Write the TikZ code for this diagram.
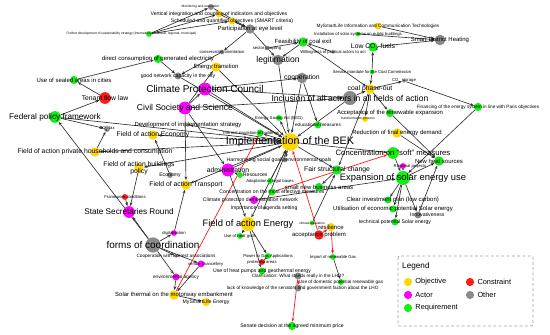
\documentclass[tikz,border=0pt]{standalone}
\usepackage{fontspec}
\setmainfont{Liberation Sans}
\usetikzlibrary{arrows.meta,positioning,backgrounds}
\definecolor{ObjYellow}{HTML}{FFD600}
\definecolor{ActMagenta}{HTML}{FF00FF}
\definecolor{ReqGreen}{HTML}{11EE11}
\definecolor{ConRed}{HTML}{FF1A1A}
\definecolor{OthGray}{HTML}{8A8A8A}
\definecolor{EdgeGray}{HTML}{303030}

\begin{document}
\begin{tikzpicture}[x=0.03cm, y=-0.03cm,
  gdot/.style={circle, inner sep=0pt, minimum size=#1pt},
  obj/.style={gdot=#1, fill=ObjYellow}, obj/.default=7,
  act/.style={gdot=#1, fill=ActMagenta}, act/.default=7,
  req/.style={gdot=#1, fill=ReqGreen}, req/.default=7,
  con/.style={gdot=#1, fill=ConRed}, con/.default=7,
  oth/.style={gdot=#1, fill=OthGray}, oth/.default=7,
  fs92/.style={font=\fontsize{9.2}{10}\selectfont},
  fs85/.style={font=\fontsize{8.5}{9}\selectfont},
  fs80/.style={font=\fontsize{8}{9}\selectfont},
  fs73/.style={font=\fontsize{7.3}{8}\selectfont},
  fs70/.style={font=\fontsize{7}{8}\selectfont},
  fs66/.style={font=\fontsize{6.6}{7}\selectfont},
  fs58/.style={font=\fontsize{5.8}{6.4}\selectfont},
  fs51/.style={font=\fontsize{5.1}{6}\selectfont},
  fs44/.style={font=\fontsize{4.4}{5}\selectfont},
  fs40/.style={font=\fontsize{4}{4.6}\selectfont},
  fs36/.style={font=\fontsize{3.6}{4.2}\selectfont},
  fs28/.style={font=\fontsize{2.8}{3.4}\selectfont},
  legtxt/.style={font=\fontsize{6.3}{7}\selectfont, inner sep=0.5pt},
  legframe/.style={draw=gray!75, line width=0.6pt, dash pattern=on 2.5pt off 2pt, rounded corners=1pt},
  arr/.style={-{Stealth[length=3.2pt,width=2.4pt]}, line width=0.55pt, draw=EdgeGray},
  carr/.style={-{Stealth[length=3.2pt,width=2.4pt]}, line width=0.6pt, draw=ConRed},
]
\useasboundingbox (0,0) rectangle (550,335);

%% ─ Top: strategy and coal exit ─────────────────────────────────────────────
\node[oth=5, label={[fs28,xshift=-9pt]center:{Monitoring and evaluation}}] (monit) at (211,7) {};
\node[obj=6, label={[fs44]center:{Vertical integration and coupling of indicators and objectives}}] (vert) at (219,14) {};
\node[obj=6, label={[fs44]center:{Scheduled and quantified objectives (SMART criteria)}}] (smart) at (232,21) {};
\node[oth=8, label={[fs51]center:{Participation at eye level}}] (partic) at (250,29) {};
\node[req=5, label={[fs28,xshift=-15pt]center:{Further development of sustainability strategy (international, national, regional, municipal)}}] (furtherdev) at (149,34) {};
\node[req=7, label={[fs51]center:{direct consumption of generated electricity}}] (directcons) at (158,59) {};
\node[oth=4, label={[fs36]center:{conservation orientation}}] (conserv) at (222,52) {};
\node[obj=8, label={[fs51]center:{Energy transition}}] (enertrans) at (216,67) {};
\node[oth=6, label={[fs44]center:{good network capacity in the city}}] (goodnet) at (178,76) {};
\node[oth=9, label={[fs73]center:{legitimation}}] (legit) at (278,60) {};
\node[oth=4, label={[fs36]center:{sector coupling}}] (sector) at (267,48) {};
\node[req=8, label={[fs51]center:{Feasibility of coal exit}}] (feas) at (303,42) {};
\node[oth=3, label={[fs36]center:{Willingness of political actors to act}}] (willing) at (333,52) {};
\node[obj=6, label={[fs40]center:{MySmartLife Information and Communication Technologies}}] (mslict) at (378,26) {};
\node[req=4, label={[fs36]center:{Installation of solar systems on public buildings}}] (solarpub) at (358,34) {};
\node[req=8, label={[fs58]center:{Low CO\textsubscript{2} fuels}}] (lowco) at (373,47) {};
\node[oth=9, label={[fs51]center:{Smart District Heating}}] (sdh) at (440,40) {};

%% ─ Middle: actors and the BEK ──────────────────────────────────────────────
\node[act=11, label={[fs85]center:{Climate Protection Council}}] (council) at (205,89) {};
\node[act=11, label={[fs73]center:{Civil Society and Science}}] (civil) at (185,108) {};
\node[oth=9, label={[fs58]center:{cooperation}}] (coop) at (302,78) {};
\node[req=4, label={[fs36]center:{Senate mandate for the Coal Commission}}] (mandate) at (372,72) {};
\node[obj=8, label={[fs58]center:{coal phase-out}}] (coalout) at (370,89) {};
\node[oth=3, label={[fs36]center:{CO\textsubscript{2} storage}}] (costore) at (404,81) {};
\node[req=7, label={[fs40]center:{Financing of the energy system in line with Paris objectives}}] (financing) at (478,107) {};
\node[oth=12, label={[fs73]center:{Inclusion of all actors in all fields of action}}] (inclusion) at (350,98) {};
\node[req=7, label={[fs51]center:{Acceptance of the renewable expansion}}] (accept) at (390,113) {};
\node[obj=5, label={[fs28,xshift=-6pt]center:{transformation process}}] (transf) at (365,119) {};
\node[obj=8, label={[fs51]center:{Reduction of final energy demand}}] (reduct) at (397,133) {};
\node[req=5, label={[fs36]center:{Energy Saving Act (EEG)}}] (eeg) at (279,118) {};
\node[req=6, label={[fs40]center:{educational measures}}] (educ) at (318,125) {};
\node[obj=15, label={[fs92]center:{Implementation of the BEK}}] (bek) at (290,142) {};
\node[req=10, label={[fs66]center:{Concentration on "soft" measures}}] (soft) at (393,153) {};
\node[act=5, label={[fs36,xshift=6pt]center:{Regional projects}}] (regional) at (403,166) {};
\node[req=8, label={[fs51]center:{New heat sources}}] (newheat) at (439,161) {};
\node[req=12, label={[fs80]center:{Expansion of solar energy use}}] (expsolar) at (403,178) {};
\node[req=8, label={[fs58]center:{Fair structural change}}] (fair) at (337,170) {};
\node[oth=4, label={[fs44,xshift=-5pt]center:{Harmonising social goals/environmental goals}}] (harmon) at (285,160) {};
\node[act=11, label={[fs58]center:{administration}}] (admin) at (228,170) {};
\node[req=5, label={[fs44,xshift=13pt]center:{Resources}}] (resources) at (240,175) {};
\node[req=5, label={[fs36]center:{Adaptation of legal bases}}] (legal) at (270,181) {};
\node[req=6, label={[fs44]center:{Concentration on the most effective measures}}] (effective) at (272,192) {};
\node[req=7, label={[fs51]center:{small new business areas}}] (smallbiz) at (319,187) {};
\node[act=7, label={[fs44,xshift=-3pt]center:{Climate protection demonstration network}}] (network) at (254,200) {};
\node[oth=3, label={[fs44]center:{Importance of agenda setting}}] (agenda) at (264,208) {};
\node[obj=12, label={[fs80]center:{Field of action Energy}}] (fenergy) at (248,224) {};
\node[req=4, label={[fs28]center:{climate education}}] (climedu) at (312,223) {};
\node[req=6, label={[fs51,xshift=4pt]center:{Clear investment plan (low carbon)}}] (clearinv) at (388,200) {};
\node[req=6, label={[fs51]center:{Utilisation of economic potential Solar energy}}] (utilis) at (393,209) {};
\node[oth=6, label={[fs44,xshift=8pt]center:{Innovativeness}}] (innov) at (418,215) {};
\node[req=6, label={[fs44]center:{technical potential Solar energy}}] (technical) at (395,222) {};

%% ─ Left: fields of action and coordination ─────────────────────────────────
\node[oth=3, label={[fs51]center:{Development of implementation strategy}}] (devstrat) at (188,125) {};
\node[req=6, label={[fs36,xshift=-8pt]center:{Thermal insulation of buildings}}] (thermal) at (260,133) {};
\node[obj=8, label={[fs58]center:{Field of action Economy}}] (feconomy) at (153,135) {};
\node[oth=5, label={[fs36]center:{CO\textsubscript{2} tax}}] (cotax) at (107,129) {};
\node[obj=8, label={[fs58]center:{Field of action private households and consumption}}] (fprivate) at (95,152) {};
\node[obj=8, label={[fs58,align=center]center:{Field of action buildings\\policy}}] (fbuild) at (139,168) {};
\node[oth=5, label={[fs44]center:{Economy}}] (economy) at (170,175) {};
\node[obj=8, label={[fs58]center:{Field of action Transport}}] (ftransport) at (186,185) {};
\node[req=10, label={[fs70]center:{Federal policy framework}}] (federal) at (55,117) {};
\node[con=10, label={[fs58]center:{Tenant flow law}}] (tenant) at (105,98) {};
\node[req=7, label={[fs51]center:{Use of sealed areas in cities}}] (sealed) at (74,80) {};
\node[con=5, label={[fs36]center:{Framework conditions}}] (framework) at (125,197) {};
\node[act=10, label={[fs70]center:{State Secretaries Round}}] (secret) at (129,212) {};
\node[oth=13, label={[fs85]center:{forms of coordination}}] (forms) at (153,245) {};
\node[act=5, label={[fs36]center:{digitalisation}}] (digital) at (174,233) {};
\node[oth=3, label={[fs40]center:{Cooperation with interest associations}}] (coopassoc) at (176,256) {};
\node[act=6, label={[fs36,xshift=4pt]center:{senate chancellery}}] (chancel) at (201,264) {};
\node[act=6, label={[fs40]center:{environmental agency}}] (envagency) at (176,277) {};
\node[obj=8, label={[fs51]center:{Solar thermal on the motorway embankment}}] (solarmw) at (174,295) {};
\node[obj=7, label={[fs44]center:{MySmartLife Energy}}] (mslenergy) at (206,302) {};

%% ─ Bottom: energy field and LHO ────────────────────────────────────────────
\node[req=5, label={[fs36]center:{Use of heat grids}}] (heatgrid) at (240,236) {};
\node[req=5, label={[fs36]center:{Power to Gas Applications}}] (ptogas) at (268,256) {};
\node[con=5, label={[fs36]center:{protected areas}}] (protect) at (262,262) {};
\node[req=6, label={[fs44]center:{Use of heat pumps and geothermal energy}}] (heatpump) at (262,271) {};
\node[oth=6, label={[fs40]center:{Clarification: What stands really in the LHO?}}] (clarif) at (298,276) {};
\node[req=5, label={[fs40]center:{Use of domestic potential renewable gas}}] (domestic) at (341,282) {};
\node[oth=6, label={[fs40,xshift=4pt]center:{lack of knowledge of the senators and government faction about the LHO}}] (lack) at (298,288) {};
\node[req=7, label={[fs44]center:{Senate decision at the agreed minimum price}}] (decision) at (292,326) {};
\node[req=5, label={[fs36]center:{Import of renewable Gas}}] (importgas) at (333,257) {};
\node[obj=7, label={[fs51]center:{resilience}}] (resil) at (331,227) {};
\node[con=8, label={[fs51]center:{acceptance problem}}] (accprob) at (319,235) {};

%% ─ Legend ──────────────────────────────────────────────────────────────────
\draw[legframe] (398,256) rectangle (533,326);
\node[font=\fontsize{7}{8}\selectfont, anchor=west, inner sep=0pt] (legtitle) at (402,266) {Legend};
\node[obj=7] (legobj) at (408,282) {};
\node[act=7] (legact) at (408,295) {};
\node[req=7] (legreq) at (408,308) {};
\node[con=7] (legcon) at (470,282) {};
\node[oth=7] (legoth) at (470,295) {};
\node[legtxt, right=2pt of legobj] (legobjtxt) {Objective};
\node[legtxt, right=2pt of legact] (legacttxt) {Actor};
\node[legtxt, right=2pt of legreq] (legreqtxt) {Requirement};
\node[legtxt, right=2pt of legcon] (legcontxt) {Constraint};
\node[legtxt, right=2pt of legoth] (legothtxt) {Other};

\begin{scope}[on background layer]
%% ─ Arrows: top ─────────────────────────────────────────────────────────────
\draw[arr] (furtherdev) -- (monit);
\draw[arr] (furtherdev) -- (vert);
\draw[arr] (furtherdev) -- (smart);
\draw[arr] (monit) -- (partic);
\draw[arr] (vert) -- (partic);
\draw[arr] (smart) -- (partic);
\draw[arr] (partic) -- (conserv);
\draw[arr] (conserv) -- (goodnet);
\draw[arr] (partic) -- (legit);
\draw[arr] (sector) -- (feas);
\draw[arr] (feas) -- (legit);
\draw[arr] (feas) -- (coalout);
\draw[arr] (willing) -- (feas);
\draw[arr] (legit) -- (bek);
\draw[arr] (directcons) -- (goodnet);
\draw[arr] (goodnet) -- (bek);
\draw[arr] (mandate) -- (lowco);
\draw[arr] (mandate) -- (coalout);
\draw[arr] (mslict) -- (sdh);
\draw[arr] (solarpub) -- (sdh);
\draw[arr] (lowco) -- (sdh);

%% ─ Arrows: actors ──────────────────────────────────────────────────────────
\draw[arr] (civil) -- (enertrans);
\draw[arr] (civil) -- (council);
\draw[arr] (civil) -- (inclusion);
\draw[arr] (civil) -- (admin);
\draw[arr] (civil) -- (ftransport);
\draw[arr] (enertrans) -- (bek);
\draw[arr] (council) -- (bek);
\draw[arr] (council) -- (inclusion);
\draw[arr] (council) -- (coop);
\draw[arr] (coop) -- (bek);
\draw[arr] (coop) -- (educ);
\draw[arr] (inclusion) -- (bek);
\draw[arr] (inclusion) -- (coalout);
\draw[arr] (admin) -- (bek);
\draw[arr] (admin) -- (fenergy);
\draw[arr] (resources) -- (admin);

%% ─ Arrows: coal phase-out and solar ────────────────────────────────────────
\draw[arr] (coalout) -- (costore);
\draw[arr] (costore) -- (financing);
\draw[arr] (coalout) -- (accept);
\draw[arr] (coalout) -- (transf);
\draw[arr] (coalout) -- (fair);
\draw[arr] (financing) -- (expsolar);
\draw[arr] (accept) -- (newheat);
\draw[arr] (reduct) -- (newheat);
\draw[arr] (soft) -- (expsolar);
\draw[arr] (regional) -- (expsolar);
\draw[arr] (expsolar) -- (newheat);
\draw[arr] (expsolar) -- (innov);
\draw[arr] (innov) -- (newheat);
\draw[arr] (expsolar) -- (clearinv);
\draw[arr] (expsolar) -- (utilis);
\draw[arr] (expsolar) -- (technical);
\draw[arr] (network) -- (expsolar);
\draw[arr] (fair) -- (smallbiz);
\draw[arr] (climedu) -- (fair);

%% ─ Arrows: BEK and fields of action ────────────────────────────────────────
\draw[arr] (bek) -- (soft);
\draw[arr] (bek) -- (fair);
\draw[arr] (bek) -- (feconomy);
\draw[arr] (bek) -- (fprivate);
\draw[arr] (bek) -- (fbuild);
\draw[arr] (bek) -- (ftransport);
\draw[arr] (bek) -- (fenergy);
\draw[arr] (bek) -- (thermal);
\draw[arr] (bek) -- (eeg);
\draw[arr] (bek) -- (devstrat);
\draw[arr] (bek) -- (harmon);
\draw[arr] (legal) -- (bek);
\draw[arr] (agenda) -- (bek);
\draw[arr] (fprivate) -- (cotax);
\draw[arr] (economy) -- (feconomy);
\draw[arr] (digital) -- (ftransport);
\draw[arr] (fenergy) -- (heatgrid);
\draw[arr] (fenergy) -- (ptogas);
\draw[arr] (fenergy) -- (heatpump);
\draw[arr] (ptogas) -- (protect);
\draw[arr] (importgas) -- (domestic);

%% ─ Arrows: federal level and coordination ──────────────────────────────────
\draw[arr] (federal) -- (tenant);
\draw[arr] (federal) -- (cotax);
\draw[arr] (federal) -- (bek);
\draw[arr] (tenant) -- (sealed);
\draw[arr] (sealed) -- (directcons);
\draw[arr] (forms) -- (federal);
\draw[arr] (forms) -- (secret);
\draw[arr] (forms) -- (digital);
\draw[arr] (forms) -- (coopassoc);
\draw[arr] (forms) -- (envagency);
\draw[arr] (forms) -- (chancel);
\draw[arr] (framework) -- (secret);
\draw[arr] (fbuild) -- (secret);
\draw[arr] (envagency) -- (solarmw);
\draw[arr] (chancel) -- (solarmw);
\draw[arr] (solarmw) -- (mslenergy);

%% ─ Arrows: constraints ─────────────────────────────────────────────────────
\draw[carr] (effective) -- (soft);
\draw[carr] (accprob) -- (bek);
\draw[carr] (accprob) -- (resil);
\draw[carr] (resil) -- (importgas);
\draw[carr] (lack) -- (clarif);
\draw[carr] (clarif) -- (decision);
\draw[carr] (solarmw) -- (thermal);
\end{scope}

\end{tikzpicture}
\end{document}
